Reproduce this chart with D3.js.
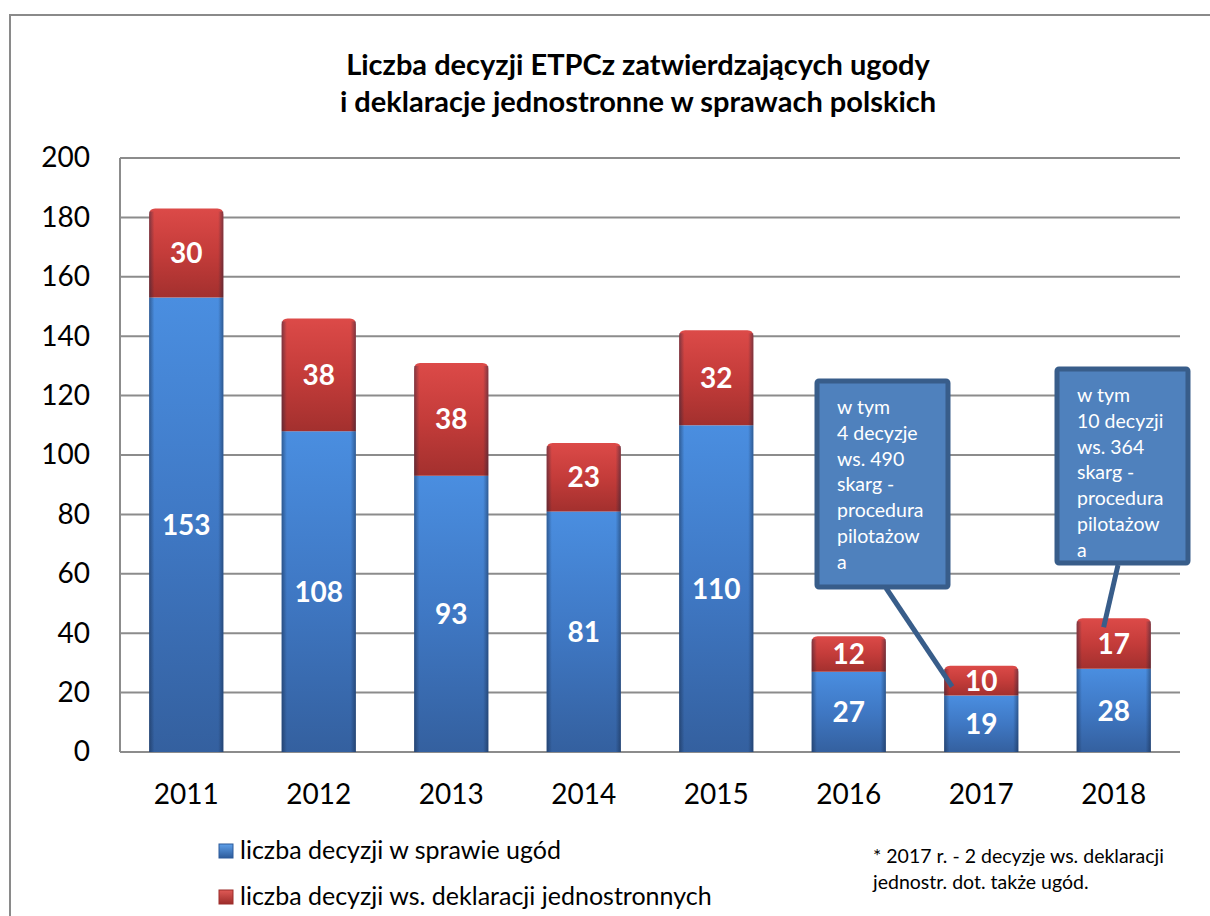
<!DOCTYPE html>
<html>
<head>
<meta charset="utf-8">
<script src="https://cdn.jsdelivr.net/npm/d3@7"></script>
<style>
  body { margin: 0; background: #fff; }
  svg { display: block; font-family: Lato, "Open Sans", sans-serif; }
</style>
</head>
<body>
<svg id="chart" width="1210" height="916"></svg>
<script>
// chart data
var years = ["2011", "2012", "2013", "2014", "2015", "2016", "2017", "2018"];
var ugody = [153, 108, 93, 81, 110, 27, 19, 28];
var jednostronne = [30, 38, 38, 23, 32, 12, 10, 17];
var yTicks = [0, 20, 40, 60, 80, 100, 120, 140, 160, 180, 200];
var seriesNames = ["liczba decyzji w sprawie ugód", "liczba decyzji ws. deklaracji jednostronnych"];
var titleLines = ["Liczba decyzji ETPCz zatwierdzających ugody", "i deklaracje jednostronne w sprawach polskich"];
var notes2017 = ["w tym", "4 decyzje", "ws. 490", "skarg -", "procedura", "pilotażow", "a"];
var notes2018 = ["w tym", "10 decyzji", "ws. 364", "skarg -", "procedura", "pilotażow", "a"];
var footnote = ["* 2017 r. - 2 decyzje ws. deklaracji", "jednostr. dot. także ugód."];

var svg = d3.select("#chart");
var margin = {left: 120, top: 158, right: 1180, bottom: 752};

var defs = svg.append("defs");
function grad(id, stops) {
    var g = defs.append("linearGradient").attr("id", id)
        .attr("x1", 0).attr("y1", 0).attr("x2", 0).attr("y2", 1);
    stops.forEach(function(s) {
        g.append("stop").attr("offset", s[0]).attr("stop-color", s[1]);
    });
}
grad("blueV", [[0, "#4a8ee0"], [0.5, "#3f78c4"], [1, "#34609f"]]);
grad("redV", [[0, "#dc4a48"], [0.5, "#c43c3a"], [1, "#a3302e"]]);
// edge shading
function hgrad(id, c) {
    var g = defs.append("linearGradient").attr("id", id)
        .attr("x1", 0).attr("y1", 0).attr("x2", 1).attr("y2", 0);
    g.append("stop").attr("offset", 0).attr("stop-color", c).attr("stop-opacity", 0.45);
    g.append("stop").attr("offset", 0.07).attr("stop-color", c).attr("stop-opacity", 0);
    g.append("stop").attr("offset", 0.93).attr("stop-color", c).attr("stop-opacity", 0);
    g.append("stop").attr("offset", 1).attr("stop-color", c).attr("stop-opacity", 0.45);
}
hgrad("edgeShade", "#10203a");

// outer frame
svg.append("rect").attr("x", 10).attr("y", 15).attr("width", 1220).attr("height", 920)
    .attr("fill", "none").attr("stroke", "#8a8a8a").attr("stroke-width", 2);

var x = d3.scaleBand().domain(years).range([margin.left, margin.right]).paddingInner(0.44).paddingOuter(0.22);
var y = d3.scaleLinear().domain([0, 200]).range([margin.bottom, margin.top]);

// gridlines
svg.append("g").selectAll("line").data(yTicks).enter().append("line")
    .attr("x1", margin.left).attr("x2", margin.right)
    .attr("y1", function(d) { return y(d); }).attr("y2", function(d) { return y(d); })
    .attr("stroke", "#8c8c8c").attr("stroke-width", 2);
svg.append("line").attr("x1", margin.left).attr("x2", margin.left)
    .attr("y1", margin.top).attr("y2", margin.bottom)
    .attr("stroke", "#8c8c8c").attr("stroke-width", 2);

// y axis labels
var yAxis = d3.axisLeft(y).tickValues(yTicks).tickSize(0).tickPadding(30);
var yg = svg.append("g").attr("transform", "translate(" + margin.left + ",0)").call(yAxis);
yg.select(".domain").remove();
yg.selectAll("text").attr("font-size", 28).attr("fill", "#000").attr("font-family", "Lato");

// x axis labels
var xAxis = d3.axisBottom(x).tickSize(0).tickPadding(32);
var xg = svg.append("g").attr("transform", "translate(0," + margin.bottom + ")").call(xAxis);
xg.select(".domain").remove();
xg.selectAll("text").attr("font-size", 28).attr("fill", "#000").attr("font-family", "Lato");

// bars
var bw = x.bandwidth();
var bars = svg.append("g").selectAll("g").data(years).enter().append("g");
bars.append("rect")
    .attr("x", function(d) { return x(d); })
    .attr("y", function(d, i) { return y(ugody[i]); })
    .attr("width", bw)
    .attr("height", function(d, i) { return y(0) - y(ugody[i]); })
    .attr("fill", "url(#blueV)");
bars.append("path")
    .attr("d", function(d, i) {
        var x0 = x(d), y0 = y(ugody[i] + jednostronne[i]), y1 = y(ugody[i]), r = 6;
        return "M" + x0 + "," + y1 + "V" + (y0 + r) + "Q" + x0 + "," + y0 + " " + (x0 + r) + "," + y0 +
            "H" + (x0 + bw - r) + "Q" + (x0 + bw) + "," + y0 + " " + (x0 + bw) + "," + (y0 + r) +
            "V" + y1 + "Z";
    })
    .attr("fill", "url(#redV)");
bars.append("rect")
    .attr("x", function(d) { return x(d); })
    .attr("y", function(d, i) { return y(ugody[i] + jednostronne[i]) + 3; })
    .attr("width", bw)
    .attr("height", function(d, i) { return y(0) - y(ugody[i] + jednostronne[i]) - 3; })
    .attr("fill", "url(#edgeShade)");

// value labels
bars.append("text")
    .attr("x", function(d) { return x(d) + bw / 2; })
    .attr("y", function(d, i) { return (y(0) + y(ugody[i])) / 2; })
    .attr("dy", "0.36em").attr("text-anchor", "middle")
    .attr("font-size", 28).attr("font-weight", "bold").attr("fill", "#fff")
    .text(function(d, i) { return ugody[i]; });
bars.append("text")
    .attr("x", function(d) { return x(d) + bw / 2; })
    .attr("y", function(d, i) { return (y(ugody[i]) + y(ugody[i] + jednostronne[i])) / 2; })
    .attr("dy", "0.36em").attr("text-anchor", "middle")
    .attr("font-size", 28).attr("font-weight", "bold").attr("fill", "#fff")
    .text(function(d, i) { return jednostronne[i]; });

// title
svg.append("text").attr("x", 638).attr("y", 75).attr("text-anchor", "middle")
    .attr("font-size", 29).attr("font-weight", "bold").attr("fill", "#000")
    .selectAll("tspan").data(titleLines).enter().append("tspan")
    .attr("x", 638).attr("dy", function(d, i) { return i ? 37 : 0; })
    .text(function(d) { return d; });

// callouts
function callout(lines, bx, by, bwid, bh, px, py, tx, ty) {
    var g = svg.append("g");
    g.append("line").attr("x1", px).attr("y1", py).attr("x2", tx).attr("y2", ty)
        .attr("stroke", "#385d8a").attr("stroke-width", 5);
    g.append("rect").attr("x", bx).attr("y", by).attr("width", bwid).attr("height", bh)
        .attr("rx", 2).attr("fill", "#4f81bd").attr("stroke", "#385d8a").attr("stroke-width", 5);
    g.append("text").attr("font-size", 19.5).attr("fill", "#fff")
        .selectAll("tspan").data(lines).enter().append("tspan")
        .attr("x", bx + 20).attr("y", function(d, i) { return by + 33 + i * 25.8; })
        .text(function(d) { return d; });
}
callout(notes2017, 817, 381, 131, 206, 886, 588, x("2017") + 8, y(22));
callout(notes2018, 1057, 369, 131, 194, 1118, 565, x("2018") + 27, y(42));

// legend
var legColors = [["#5ea0ea", "#2d5b9a"], ["#e05a56", "#9c2c2a"]];
legColors.forEach(function(c, i) {
    grad("leg" + i, [[0, c[0]], [1, c[1]]]);
});
var leg = svg.append("g").selectAll("g").data(seriesNames).enter().append("g")
    .attr("transform", function(d, i) { return "translate(219," + (844 + i * 46) + ")"; });
leg.append("rect").attr("width", 14).attr("height", 14)
    .attr("fill", function(d, i) { return "url(#leg" + i + ")"; })
    .attr("stroke", function(d, i) { return legColors[i][1]; }).attr("stroke-width", 1);
leg.append("text").attr("x", 21).attr("y", 15).attr("font-size", 25).attr("fill", "#000")
    .text(function(d) { return d; });

// footnote
svg.append("g").selectAll("text").data(footnote).enter().append("text")
    .attr("x", 873).attr("y", function(d, i) { return 863 + i * 26; })
    .attr("font-size", 19.5).attr("fill", "#000")
    .text(function(d) { return d; });
</script>
</body>
</html>
